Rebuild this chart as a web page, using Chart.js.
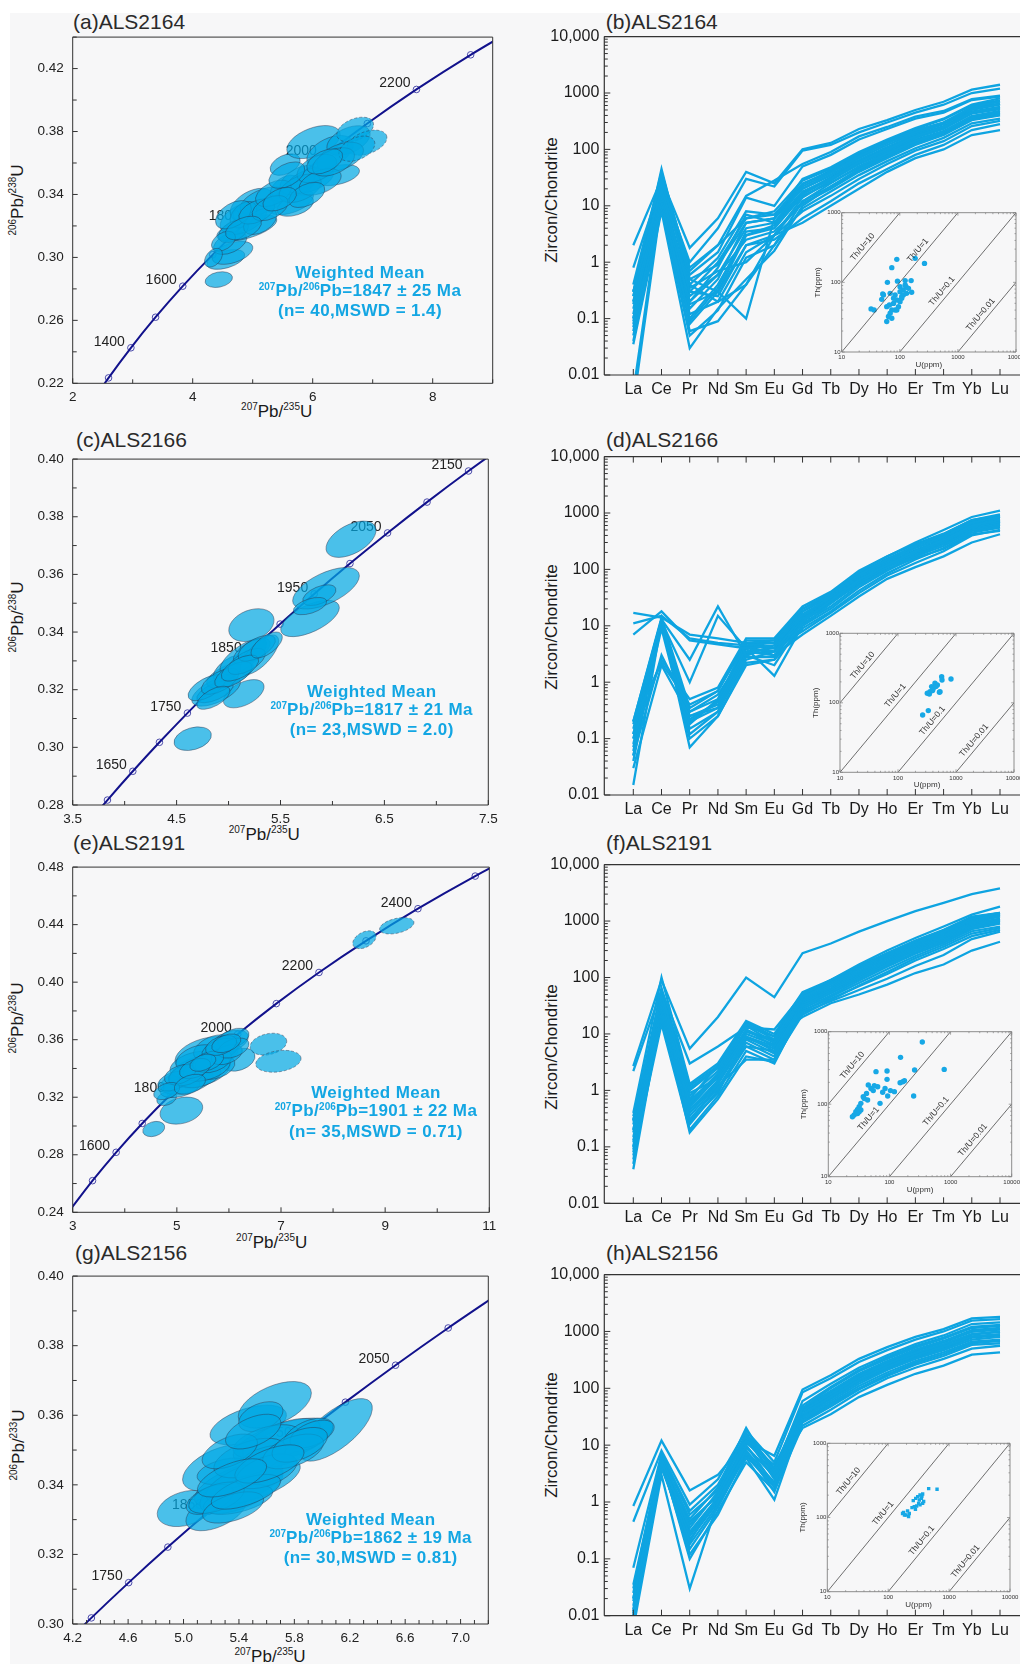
<!DOCTYPE html>
<html><head><meta charset="utf-8">
<script src="https://cdn.jsdelivr.net/npm/chart.js@4.4.1/dist/chart.umd.min.js"></script>
<style>
html,body{margin:0;padding:0;background:#fff;overflow:hidden}
body{width:1020px;height:1664px;position:relative;font-family:"Liberation Sans",Arial,Helvetica,sans-serif;color:#1e1e1e}
#bg{position:absolute;left:10px;top:13px;width:1010px;height:1651px;background:#f7f7f8}
canvas{position:absolute}
.ttl{position:absolute;font-size:21px;line-height:24px;white-space:nowrap;color:#2a2a2a}
.ax{position:absolute;left:0;top:0;font-size:17px;line-height:20px;white-space:nowrap;color:#1a1a1a;transform:translate(-50%,-50%)}
.ax.rot{transform:translate(-50%,-50%) rotate(-90deg)}
.ax sup{font-size:10px;vertical-align:0;position:relative;top:-7px}
.wm{position:absolute;transform:translateX(-50%);text-align:center;font-weight:bold;color:#13a6e3;font-size:17px;line-height:18.3px;white-space:nowrap;letter-spacing:0.4px}
.wm sup{font-size:10px;position:relative;top:-6px;vertical-align:0;letter-spacing:0}
</style></head><body>
<div id="bg"></div>

<div class="ttl" style="left:73px;top:9.7px">(a)ALS2164</div>
<div class="ttl" style="left:605.7px;top:9.7px">(b)ALS2164</div>
<div class="ttl" style="left:76px;top:428px">(c)ALS2166</div>
<div class="ttl" style="left:606px;top:428px">(d)ALS2166</div>
<div class="ttl" style="left:73px;top:831px">(e)ALS2191</div>
<div class="ttl" style="left:606px;top:831px">(f)ALS2191</div>
<div class="ttl" style="left:75px;top:1241px">(g)ALS2156</div>
<div class="ttl" style="left:606px;top:1241px">(h)ALS2156</div>

<div class="ax rot" style="left:19px;top:200px"><sup>206</sup>Pb/<sup>238</sup>U</div>
<div class="ax rot" style="left:19px;top:616.7px"><sup>206</sup>Pb/<sup>238</sup>U</div>
<div class="ax rot" style="left:19px;top:1018.3px"><sup>206</sup>Pb/<sup>238</sup>U</div>
<div class="ax rot" style="left:20px;top:1445px"><sup>206</sup>Pb/<sup>233</sup>U</div>
<div class="ax" style="left:276.7px;top:413.3px"><sup>207</sup>Pb/<sup>235</sup>U</div>
<div class="ax" style="left:264.3px;top:836px"><sup>207</sup>Pb/<sup>235</sup>U</div>
<div class="ax" style="left:271.7px;top:1244.3px"><sup>207</sup>Pb/<sup>235</sup>U</div>
<div class="ax" style="left:270px;top:1658.3px"><sup>207</sup>Pb/<sup>235</sup>U</div>
<div class="ax rot" style="left:551.7px;top:200px">Zircon/Chondrite</div>
<div class="ax rot" style="left:551.7px;top:626.7px">Zircon/Chondrite</div>
<div class="ax rot" style="left:551.7px;top:1046.7px">Zircon/Chondrite</div>
<div class="ax rot" style="left:551.7px;top:1435px">Zircon/Chondrite</div>

<script>
// ---------------- DATA ----------------
const elements = ['La','Ce','Pr','Nd','Sm','Eu','Gd','Tb','Dy','Ho','Er','Tm','Yb','Lu'];
const reeMajor = [0.01,0.1,1,10,100,1000,10000];
const reeMajorLabels = ['0.01','0.1','1','10','100','1000','10,000'];
const insetXMajor = [10,100,1000,10000];
const insetXLabels = ['10','100','1000','10000'];
const insetYMajor = [10,100,1000];
const insetYLabels = ['10','100','1000'];
const thuRatios = [10,1,0.1,0.01];
const thuLabels = ['Th/U=10','Th/U=1','Th/U=0.1','Th/U=0.01'];

// decay constants (per Ma) for the concordia reference curve
const L238 = 1.55125e-4, L235 = 9.8485e-4;

// tick labels of concordia panels
const aXLabels=['2','4','6','8'];             const aYLabels=['0.22','0.26','0.30','0.34','0.38','0.42'];
const cXLabels=['3.5','4.5','5.5','6.5','7.5']; const cYLabels=['0.28','0.30','0.32','0.34','0.36','0.38','0.40'];
const eXLabels=['3','5','7','9','11'];         const eYLabels=['0.24','0.28','0.32','0.36','0.40','0.44','0.48'];
const gXLabels=['4.2','4.6','5.0','5.4','5.8','6.2','6.6','7.0']; const gYLabels=['0.30','0.32','0.34','0.36','0.38','0.40'];

// concordia ages (Ma): curve nodes, open markers, labelled markers
const aAges=[1200,1300,1400,1500,1600,1700,1800,1900,2000,2100,2200,2300,2400];
const aMarkers=[1300,1400,1500,1600,1700,1800,1900,2000,2100,2200,2300];
const aLabeled=[1400,1600,1800,2000,2200];
const cAges=[1550,1600,1650,1700,1750,1800,1850,1900,1950,2000,2050,2100,2150,2200];
const cMarkers=[1600,1650,1700,1750,1800,1850,1900,1950,2000,2050,2100,2150];
const cLabeled=[1650,1750,1850,1950,2050,2150];
const eAges=[1400,1500,1600,1700,1800,1900,2000,2100,2200,2300,2400,2500,2600];
const eMarkers=[1500,1600,1700,1800,1900,2000,2100,2200,2300,2400,2500];
const eLabeled=[1600,1800,2000,2200,2400];
const gAges=[1650,1700,1750,1800,1850,1900,1950,2000,2050,2100,2150];
const gMarkers=[1700,1750,1800,1850,1900,1950,2000,2050,2100];
const gLabeled=[1750,1850,1950,2050];

// error ellipses: [207Pb/235U, 206Pb/238U, err x, err y, rho, dashed]
const ellA=[
[4.435,0.2859,0.228,0.0050,0.25,0],[4.551,0.2987,0.317,0.0063,0.45,0],[4.663,0.3029,0.339,0.0073,0.45,0],
[4.624,0.3092,0.278,0.0073,0.45,0],[4.902,0.3187,0.50,0.0084,0.6,0],[4.846,0.3250,0.389,0.0105,0.45,0],
[4.985,0.3334,0.361,0.0105,0.45,0],[5.180,0.3359,0.389,0.0090,0.5,0],[4.846,0.3271,0.222,0.0084,0.4,0],
[5.624,0.3355,0.389,0.0084,0.45,0],[5.708,0.3330,0.306,0.0069,0.4,0],[5.541,0.3439,0.250,0.0084,0.4,0],
[5.791,0.3491,0.334,0.0094,0.45,0],[5.958,0.3491,0.389,0.0084,0.5,0],[6.402,0.3523,0.378,0.0067,0.4,0],
[5.541,0.3590,0.250,0.0069,0.4,0],[6.013,0.3733,0.445,0.0105,0.45,0],[6.291,0.3670,0.389,0.0105,0.45,0],
[6.597,0.3743,0.361,0.0094,0.45,0],[6.708,0.3813,0.306,0.0078,0.4,1],[6.903,0.3729,0.334,0.0080,0.4,1],
[6.458,0.3638,0.389,0.0094,0.45,0],[4.679,0.3166,0.25,0.0073,0.45,0],[5.124,0.3229,0.278,0.0084,0.45,0],
[4.679,0.3271,0.30,0.0090,0.45,0],[5.068,0.3292,0.30,0.0080,0.45,0],[5.346,0.3407,0.30,0.0084,0.45,0],
[5.791,0.3439,0.35,0.0090,0.45,0],[6.069,0.3565,0.33,0.0090,0.45,0],[6.125,0.3480,0.35,0.0084,0.45,0],
[5.569,0.3523,0.30,0.0084,0.45,0],[6.347,0.3607,0.35,0.0090,0.45,0],[6.736,0.3691,0.30,0.0080,0.4,1],
[4.513,0.3103,0.20,0.0063,0.4,0],[4.346,0.2998,0.15,0.0060,0.4,0],[5.290,0.3313,0.30,0.0080,0.45,0],
[5.902,0.3397,0.30,0.0080,0.45,0],[4.846,0.3187,0.30,0.0075,0.45,0],[5.45,0.3370,0.28,0.0075,0.45,0],
[6.20,0.3610,0.30,0.0080,0.45,0]];
const ellC=[
[4.655,0.3030,0.180,0.0041,0.3,0],[5.146,0.3186,0.196,0.0049,0.5,0],[4.880,0.3195,0.234,0.0052,0.6,0],
[4.870,0.3193,0.176,0.0038,0.6,0],[5.014,0.3252,0.225,0.0046,0.6,0],[5.014,0.3275,0.160,0.0046,0.6,0],
[5.143,0.3315,0.225,0.0063,0.7,0],[5.223,0.3333,0.176,0.0046,0.6,0],[5.297,0.3321,0.185,0.0069,0.7,0],
[5.220,0.3424,0.218,0.0057,0.3,0],[5.784,0.3447,0.282,0.0063,0.6,0],[5.938,0.3552,0.321,0.0072,0.6,0],
[5.874,0.3528,0.160,0.0036,0.5,0],[5.784,0.3490,0.160,0.0030,0.5,0],[6.179,0.3722,0.241,0.0063,0.5,0],
[4.790,0.3207,0.180,0.0045,0.6,0],[4.918,0.3229,0.180,0.0045,0.6,0],[5.046,0.3252,0.180,0.0045,0.6,0],
[5.175,0.3298,0.180,0.0045,0.6,0],[5.271,0.3344,0.180,0.0045,0.6,0],[4.854,0.3172,0.160,0.0040,0.6,0],
[5.110,0.3275,0.180,0.0045,0.6,0],[5.367,0.3355,0.150,0.0045,0.6,0]];
const ellE=[
[4.556,0.2979,0.211,0.0053,0.25,0],[5.087,0.3107,0.410,0.0094,0.25,0],[4.805,0.3192,0.190,0.0050,0.3,0],
[5.190,0.3312,0.510,0.0092,0.4,0],[5.446,0.3381,0.580,0.0115,0.4,0],[5.574,0.3496,0.610,0.0126,0.35,0],
[5.318,0.3427,0.450,0.0092,0.4,0],[5.702,0.3542,0.380,0.0092,0.4,0],[6.022,0.3587,0.350,0.0080,0.4,0],
[6.086,0.3610,0.300,0.0070,0.4,0],[6.182,0.3461,0.320,0.0080,0.3,0],[5.061,0.3266,0.380,0.0069,0.4,0],
[4.933,0.3312,0.300,0.0069,0.4,0],[5.446,0.3346,0.400,0.0080,0.4,0],[5.766,0.3404,0.350,0.0080,0.4,0],
[5.382,0.3473,0.400,0.0092,0.4,0],[5.830,0.3530,0.350,0.0080,0.4,0],[5.574,0.3404,0.450,0.0092,0.4,0],
[5.190,0.3358,0.350,0.0080,0.4,0],[5.702,0.3450,0.350,0.0080,0.4,0],[5.958,0.3496,0.300,0.0070,0.4,0],
[6.086,0.3542,0.300,0.0070,0.4,0],[5.061,0.3358,0.300,0.0070,0.4,0],[4.805,0.3243,0.250,0.0060,0.4,0],
[5.60,0.3450,0.300,0.0070,0.4,0],[5.35,0.3400,0.300,0.0070,0.4,0],[5.85,0.3560,0.300,0.0070,0.4,0],
[5.25,0.3290,0.300,0.0070,0.4,0],[5.50,0.3440,0.250,0.0060,0.4,0],[5.95,0.3575,0.280,0.0065,0.4,0],
[6.758,0.3569,0.352,0.0076,0.25,1],[6.950,0.3450,0.435,0.0076,0.25,1],[8.602,0.4295,0.224,0.0062,0.4,1],
[9.223,0.4392,0.330,0.0057,0.4,1]];
const ellG=[
[5.012,0.3332,0.202,0.0052,0.3,0],[5.236,0.3325,0.219,0.0057,0.5,0],[5.260,0.3449,0.267,0.0067,0.5,0],
[5.467,0.3572,0.276,0.0057,0.5,0],[5.659,0.3630,0.264,0.0067,0.5,0],[6.099,0.3558,0.264,0.0090,0.7,0],
[5.399,0.3401,0.320,0.0067,0.6,0],[5.418,0.3387,0.300,0.0070,0.6,0],[5.719,0.3525,0.360,0.0067,0.6,0],
[5.707,0.3529,0.280,0.0062,0.6,0],[5.298,0.3439,0.200,0.0038,0.4,0],[5.558,0.3596,0.160,0.0043,0.4,0],
[5.599,0.3525,0.240,0.0048,0.5,0],[5.503,0.3411,0.340,0.0067,0.6,0],[5.394,0.3358,0.250,0.0043,0.5,0],
[5.899,0.3544,0.180,0.0048,0.5,0],[5.647,0.3482,0.220,0.0034,0.4,0],[5.190,0.3358,0.170,0.0043,0.5,0],
[5.928,0.3546,0.160,0.0040,0.5,0],[5.479,0.3477,0.260,0.0057,0.5,0],[5.334,0.3496,0.200,0.0050,0.5,0],
[5.599,0.3439,0.220,0.0050,0.5,0],[5.791,0.3496,0.220,0.0050,0.5,0],[5.503,0.3553,0.200,0.0050,0.5,0],
[5.238,0.3363,0.200,0.0045,0.5,0],[5.358,0.3335,0.220,0.0045,0.5,0],[5.839,0.3515,0.200,0.0050,0.5,0],
[5.45,0.3380,0.250,0.0050,0.6,0],[5.62,0.3460,0.250,0.0055,0.6,0],[5.35,0.3420,0.250,0.0055,0.6,0]];

// REE chondrite-normalised patterns (La..Lu)
const reeB=[
[2.0,30,1.8,6,40,25,100,130,230,330,500,700,1150,1400],
[0.8,25,1.0,4,30,22,95,120,200,300,450,620,1000,1200],
[0.4,40,0.7,2,15,28,55,90,170,250,380,480,780,900],
[0.3,20,0.6,1.5,14,10,50,80,150,230,350,450,750,860],
[0.25,45,0.5,0.3,0.1,6,30,48,90,150,240,350,620,800],
[0.2,18,0.3,1,6,8,28,45,85,140,220,300,560,700],
[0.15,15,0.2,0.8,7,5,22,38,75,130,200,290,520,650],
[0.1,25,0.15,0.5,5,6,20,35,70,120,190,280,500,620],
[0.08,12,0.1,0.4,3,4,16,30,60,100,170,250,460,560],
[0.06,20,0.08,0.3,2,3,14,28,55,95,160,230,430,520],
[0.05,10,0.06,0.09,0.4,2,12,25,50,85,140,210,390,480],
[0.035,8,0.03,0.15,0.5,1.6,10,22,45,78,130,200,370,450],
[0.005,15,0.4,0.2,1.5,3,8,15,30,55,95,140,260,320],
[0.003,12,0.3,0.25,2,2.5,6,12,25,45,80,120,220,280],
[0.3,22,0.25,0.6,4,5,18,30,55,90,150,210,380,460],
[0.2,14,0.12,0.2,0.4,3,5,10,20,40,70,100,180,220],
[0.12,30,0.4,1.2,8,7,25,40,80,140,230,340,600,740],
[0.09,10,0.09,0.35,3.5,4,15,26,48,80,135,200,350,430],
[0.07,16,0.2,0.6,2.5,3.5,11,20,40,70,120,180,330,400],
[0.18,28,0.5,0.9,5,6,24,42,80,130,210,300,540,650],
[0.04,9,0.05,0.14,1.2,2,9,18,35,62,105,160,290,350],
[0.3,35,0.8,2,6,7,20,35,65,110,180,260,470,570],
[0.1,18,0.35,0.7,1,3,12,22,42,75,125,185,340,410],
[0.25,12,0.18,0.3,3,4.5,17,32,62,105,170,245,450,540]];
const reeD=[
[17,14,7,6,5,5.5,20,38,90,170,300,500,850,1100],
[11,15,6,5,4.5,5,18,35,80,150,260,420,750,950],
[7,18,5.5,4.7,4,4.5,16,32,75,140,240,380,680,850],
[0.2,13,2.5,22,3,2,12,28,65,120,210,330,600,750],
[0.15,12,1.0,15,4,1.3,10,25,60,110,200,310,560,700],
[0.1,2.5,0.5,0.8,6,6,22,40,95,170,280,430,750,900],
[0.2,2.2,0.4,0.7,5.5,5.5,20,36,85,155,260,400,700,850],
[0.05,3,0.3,0.5,5,4,18,33,78,140,240,360,650,800],
[0.03,2.0,0.25,0.4,4,3.5,15,30,70,130,220,340,620,750],
[0.015,12,0.2,0.35,3.5,3,13,28,62,120,200,320,580,700],
[0.12,10,0.15,0.3,3,4.5,12,25,58,110,190,300,540,650],
[0.08,11,0.12,0.3,2.5,3.5,11,22,52,100,180,280,500,620],
[0.06,9,0.1,0.25,2.2,2.5,10,20,48,95,170,260,480,580],
[0.04,12,0.07,0.25,2,2.5,9,18,42,85,150,240,450,550],
[0.18,13,0.3,0.6,3.5,4,8,17,38,78,130,210,400,500],
[0.1,11,0.2,0.45,4.5,3,7,15,33,68,110,170,300,420],
[0.2,14,0.35,0.7,5,5,14,28,60,110,190,290,520,620],
[0.07,12,0.18,0.5,4.5,4,16,30,66,120,200,300,560,680],
[0.12,10,0.25,0.35,2.8,2.8,12,26,55,100,160,230,420,480],
[0.05,13,0.22,0.45,3.2,3.5,14,30,68,125,210,330,590,720]];
const reeF=[
[2.7,90,5.5,20,100,45,270,400,650,1000,1500,2100,3000,3800],
[2.2,60,3,6,13,12,50,90,170,300,500,800,1300,1800],
[0.4,100,1.3,3,17,10,55,90,160,270,450,700,1200,1400],
[0.35,50,1.0,2.5,15,8,50,85,150,250,420,650,1100,1350],
[0.3,40,0.8,2.2,14,7,45,80,140,240,400,620,1050,1300],
[0.25,35,0.6,2,12,6,42,75,130,225,380,600,1000,1250],
[0.2,30,0.5,1.8,10,6.5,40,70,125,215,360,560,950,1200],
[0.15,25,0.45,1.5,9,5,38,65,118,200,340,530,900,1100],
[0.12,22,0.35,1.3,8,4.5,35,60,110,190,320,500,850,1050],
[0.1,20,0.3,1.1,7,4,32,56,100,175,300,470,800,1000],
[0.08,18,0.25,1,6,3.5,30,52,95,165,280,440,760,950],
[0.07,15,0.2,0.8,5,3,28,48,88,155,265,410,720,900],
[0.04,25,0.18,0.7,4,3.2,25,45,80,140,240,380,660,800],
[0.05,30,0.3,1.2,3.5,3.5,22,40,72,125,220,350,600,750],
[0.3,45,0.7,2.8,16,9,20,35,50,75,120,170,300,430],
[0.2,55,1.1,2.5,11,8,24,38,60,95,160,250,480,650],
[0.18,35,0.9,1.6,6,5,26,42,70,115,200,320,540,700],
[0.09,28,0.4,1.4,12,7,45,85,150,260,430,680,1150,1400],
[0.06,20,0.55,1.7,9,6,48,80,145,245,410,640,1050,1300],
[0.28,65,1.2,2.7,14,9,52,88,155,265,440,680,1150,1380],
[0.13,32,0.65,1.9,11,7.5,36,62,112,195,330,510,880,1080],
[0.1,24,0.28,0.9,8.5,5.5,33,58,105,182,310,480,820,1020]];
const reeH=[
[0.85,12,1.6,3,12,6.5,95,170,330,530,800,1100,1700,1800],
[0.45,8,0.9,2.5,18,5,85,150,290,470,720,1000,1550,1650],
[0.07,7,0.7,2,15,3.5,60,120,230,380,600,850,1350,1450],
[0.035,6,0.5,1.8,20,3,45,100,200,330,520,750,1150,1250],
[0.018,5,0.35,1.5,14,2.5,44,90,180,300,480,680,1050,1150],
[0.01,4,0.2,1.3,10,2,40,80,160,270,420,600,900,1000],
[0.006,3,0.03,1,8,1.5,35,70,140,240,380,540,820,900],
[0.008,5,0.12,0.6,6,1.1,30,60,120,210,330,470,720,800],
[0.012,4.5,0.15,0.8,7,2,28,55,110,190,300,430,660,720],
[0.02,6,0.25,1.1,9,3,25,48,95,165,260,370,580,620],
[0.009,5.5,0.1,0.7,5,1.6,22,42,85,150,230,330,500,560],
[0.015,4,0.3,1.2,12,3.2,20,35,70,115,180,250,390,430],
[0.03,6.5,0.4,1.4,11,4.5,32,65,130,220,350,500,780,850],
[0.011,5,0.18,0.9,8,2.2,38,75,150,255,400,580,880,980],
[0.025,7,0.6,1.6,16,4,50,105,210,350,550,780,1200,1300],
[0.007,4.2,0.22,1.0,6.5,1.8,26,52,100,175,280,400,620,680],
[0.013,5.8,0.45,1.3,9.5,2.8,42,85,170,285,450,640,980,1080],
[0.02,6,0.28,1.1,13,3.8,34,68,135,230,360,520,800,880]];

// inset Th vs U (ppm): [U, Th]
const thB=[[88.8,213.8],[183.7,221],[266,187],[72.8,162.5],[61.2,100],[91.2,104],[123.6,106],[156.7,106],[50.9,68],[48.8,57],[68.2,69.5],[59.6,44.8],[72.8,40],[32,41.6],[36.1,40],[101,86.7],[115,77.6],[131,69.5],[108,62.5],[88.8,55.7],[77.9,49.9],[101,73.5],[115,65.8],[83,65.8],[94.9,44.8],[68.2,36],[63.8,32.3],[59.6,27.4],[72.8,30.5],[83,40],[128,86.7],[141,82],[160,72],[101,52.8],[88.8,40],[78,59],[66.3,47.3],[123.6,91.5],[52.3,65.8],[108,59]];
const thD=[[266,66.8],[333,77.2],[530,144.8],[820,220],[566,237.8],[574,213],[434,190.8],[380,171],[356,144.8],[347,134],[406,161.5],[477,180],[518,142],[395,150],[450,171],[320,137]];
const thF=[[345,720],[152,443],[60.3,281],[91.4,287],[258,296],[787,302],[91.4,220],[45.1,184],[56.6,180],[64.2,174],[84.8,165],[103.8,154],[120.5,149],[149.5,198],[176,211],[37.3,127],[43.9,114],[249,130],[93.6,130],[70.2,102.7],[34.1,102.7],[32,92.6],[30.1,84.9],[28.2,78.8],[26.5,70.9],[24.8,67.2],[30.1,74.3],[34.1,83],[32,78.8],[49.9,165],[54.4,154],[42.2,141],[38.7,120],[77.5,146],[165.5,204]];
const thH=[[179,117.4],[196,108],[216,102.6],[172,113],[208,123],[258,168.6],[305,191],[333,201],[368,207],[351,181],[316,155],[293,143],[280,129],[268,140],[246,136],[333,148],[382,164],[462,245],[634,240],[324,172],[368,155],[222,113],[185,108],[283,181],[358,195]];

// ---------------- RENDERING ----------------
Chart.defaults.font.family='"Liberation Sans", Arial, Helvetica, sans-serif';
Chart.defaults.color='#1e1e1e';
Chart.defaults.animation=false;
Chart.defaults.events=[];
Chart.defaults.plugins.legend.display=false;
Chart.defaults.plugins.tooltip.enabled=false;

const FONT='"Liberation Sans", Arial, Helvetica, sans-serif';
function conc(t){return {x:Math.exp(L235*t)-1, y:Math.exp(L238*t)-1};}
function steps(min,max,step){const n=Math.round((max-min)/step),o=[];for(let i=0;i<=n;i++)o.push(+(min+i*step).toFixed(6));return o;}
function logTicks(majors){const o=[];majors.forEach((m,i)=>{o.push(m);if(i<majors.length-1)for(let k=2;k<=9;k++)o.push(+(m*k).toPrecision(6));});return o;}

function framePlugin(cfg){
  return {id:'frame',afterDraw(chart){
    const {ctx,chartArea:a,scales:{x,y}}=chart;
    ctx.save();
    ctx.strokeStyle=cfg.color;ctx.lineWidth=cfg.lw;ctx.beginPath();
    if(cfg.sides.includes('t')){ctx.moveTo(a.left,a.top);ctx.lineTo(a.right,a.top);}
    if(cfg.sides.includes('r')){ctx.moveTo(a.right,a.top);ctx.lineTo(a.right,a.bottom);}
    if(cfg.sides.includes('b')){ctx.moveTo(a.left,a.bottom);ctx.lineTo(a.right,a.bottom);}
    if(cfg.sides.includes('l')){ctx.moveTo(a.left,a.top);ctx.lineTo(a.left,a.bottom);}
    ctx.stroke();
    ctx.lineWidth=cfg.tw;ctx.beginPath();
    x.ticks.forEach(t=>{const p=x.getPixelForValue(t.value);const L=(t.label!==''&&t.label!=null)?cfg.maj:cfg.min;
      if(cfg.xb){ctx.moveTo(p,a.bottom);ctx.lineTo(p,a.bottom-L);} if(cfg.xt){ctx.moveTo(p,a.top);ctx.lineTo(p,a.top+L);} });
    y.ticks.forEach(t=>{const p=y.getPixelForValue(t.value);const L=(t.label!==''&&t.label!=null)?cfg.maj:cfg.min;
      if(cfg.yl){ctx.moveTo(a.left,p);ctx.lineTo(a.left+L,p);} if(cfg.yr){ctx.moveTo(a.right,p);ctx.lineTo(a.right-L,p);} });
    ctx.stroke();ctx.restore();
  }};
}

function concPlugin(p){
  return {id:'conc',afterDatasetsDraw(chart){
    const {ctx,chartArea:a,scales:{x,y}}=chart;
    ctx.save();
    ctx.beginPath();ctx.rect(a.left,a.top,a.right-a.left,a.bottom-a.top);ctx.clip();
    ctx.font='14px '+FONT;ctx.fillStyle='#222';ctx.textAlign='right';ctx.textBaseline='middle';
    p.labeled.forEach(t=>{const c=conc(t);ctx.fillText(String(t),x.getPixelForValue(c.x)-6,y.getPixelForValue(c.y)-6);});
    p.ell.forEach(e=>{
      const cx=x.getPixelForValue(e[0]),cy=y.getPixelForValue(e[1]);
      const sx=Math.abs(x.getPixelForValue(e[0]+e[2])-cx),sy=Math.abs(y.getPixelForValue(e[1]+e[3])-cy);
      const c=-e[4]*sx*sy,A=sx*sx,B=sy*sy,m=(A+B)/2,d=Math.sqrt(((A-B)/2)**2+c*c);
      const r1=Math.sqrt(m+d),r2=Math.sqrt(Math.max(m-d,0.25)),th=0.5*Math.atan2(2*c,A-B);
      ctx.beginPath();ctx.ellipse(cx,cy,r1,r2,th,0,2*Math.PI);
      ctx.fillStyle='rgba(0,168,228,0.7)';ctx.fill();
      ctx.setLineDash(e[5]?[3,2]:[]);ctx.strokeStyle='rgba(45,45,70,0.55)';ctx.lineWidth=0.8;ctx.stroke();
    });
    ctx.restore();
  }};
}

function thuPlugin(anchors){
  return {id:'thu',afterDatasetsDraw(chart){
    const {ctx,scales:{x,y}}=chart;
    ctx.save();ctx.font='8.5px '+FONT;ctx.fillStyle='#333';ctx.textAlign='center';ctx.textBaseline='middle';
    thuRatios.forEach((k,i)=>{
      const u=anchors[i],px=x.getPixelForValue(u),py=y.getPixelForValue(k*u);
      const px2=x.getPixelForValue(u*2),py2=y.getPixelForValue(k*u*2);
      const ang=Math.atan2(py2-py,px2-px),nx=Math.sin(ang),ny=-Math.cos(ang);
      ctx.save();ctx.translate(px+6.5*nx,py+6.5*ny);ctx.rotate(ang);ctx.fillText(thuLabels[i],0,0);ctx.restore();
    });
    ctx.restore();
  }};
}

function addCanvas(l,t,w,h){const c=document.createElement('canvas');c.width=w;c.height=h;c.style.left=l+'px';c.style.top=t+'px';document.body.appendChild(c);return c;}

// concordia panels
const concPanels=[
 {plot:[72.7,34.3,492.7,383.3],xr:[2,9,1],yr:[0.22,0.44,0.02],xdec:0,xl:aXLabels,yl:aYLabels,ages:aAges,markers:aMarkers,labeled:aLabeled,ell:ellA},
 {plot:[72.7,455.7,488.3,805],xr:[3.5,7.5,0.5],yr:[0.28,0.40,0.01],xdec:1,xl:cXLabels,yl:cYLabels,ages:cAges,markers:cMarkers,labeled:cLabeled,ell:ellC},
 {plot:[72.7,864,489.3,1212.3],xr:[3,11,1],yr:[0.24,0.48,0.02],xdec:0,xl:eXLabels,yl:eYLabels,ages:eAges,markers:eMarkers,labeled:eLabeled,ell:ellE},
 {plot:[72.7,1273.3,488.3,1624],xr:[4.2,7.2,0.1],yr:[0.30,0.40,0.01],xdec:1,xl:gXLabels,yl:gYLabels,ages:gAges,markers:gMarkers,labeled:gLabeled,ell:ellG}
];
concPanels.forEach(p=>{
  const [L,T,R,B]=p.plot;const cl=10,ct=Math.round(T-14),cw=Math.round(R+16-cl),ch=Math.round(B+26-ct);
  const cv=addCanvas(cl,ct,cw,ch);
  const xT=steps(...p.xr),yT=steps(...p.yr);
  new Chart(cv,{type:'line',
    data:{datasets:[
      {data:p.ages.map(a=>conc(a)),borderColor:'#12128c',borderWidth:2,pointRadius:0,cubicInterpolationMode:'monotone'},
      {data:p.markers.map(a=>conc(a)),showLine:false,pointRadius:3.3,pointBackgroundColor:'#f6f6ff',pointBorderColor:'#4a4aa8',pointBorderWidth:1}
    ]},
    options:{responsive:false,maintainAspectRatio:false,
      layout:{autoPadding:false,padding:{left:0,top:T-ct,right:cw-(R-cl),bottom:0}},
      scales:{
        x:{type:'linear',min:p.xr[0],max:p.xr[1],grid:{display:false,drawTicks:false},border:{display:false},
          afterBuildTicks:s=>{s.ticks=xT.map(v=>({value:v}));},
          afterFit:s=>{s.height=ch-(B-ct);},
          ticks:{autoSkip:false,maxRotation:0,padding:6,color:'#222',font:{size:13.5},callback:v=>{const s=(+v).toFixed(p.xdec);return p.xl.includes(s)?s:'';}}},
        y:{type:'linear',min:p.yr[0],max:p.yr[1],grid:{display:false,drawTicks:false},border:{display:false},
          afterBuildTicks:s=>{s.ticks=yT.map(v=>({value:v}));},
          afterFit:s=>{s.width=L-cl;},
          ticks:{autoSkip:false,padding:9,color:'#222',font:{size:13.5},callback:v=>{const s=(+v).toFixed(2);return p.yl.includes(s)?s:'';}}}
      }},
    plugins:[concPlugin(p),framePlugin({sides:'trbl',color:'#333',lw:1,tw:1,maj:5,min:4,xb:true,xt:false,yl:true,yr:false})]
  });
});

// REE panels + insets
const reePanels=[
 {plot:[604.3,35.5,1020,375],data:reeB,top:false,inset:{frame:[841.7,212.7,1016,352],pts:thB,anchors:[28,250,650,3000],style:'circle'}},
 {plot:[604.3,456,1020,795],data:reeD,top:true,inset:{frame:[840,633.3,1014,772.3],pts:thD,anchors:[30,110,480,2500],style:'circle'}},
 {plot:[604.3,864,1020,1203.3],data:reeF,top:false,inset:{frame:[828.3,1031.7,1011.7,1176.7],pts:thF,anchors:[30,55,700,2800],style:'circle'}},
 {plot:[604.3,1274,1020,1615.7],data:reeH,top:false,inset:{frame:[827.3,1443.3,1010,1591.7],pts:thH,anchors:[27,100,430,2250],style:'rect'}}
];
const spacing=(1000-633.3)/13;
const xMin=(604.3-633.3)/spacing,xMax=(1020-633.3)/spacing;
const reeTicks=logTicks(reeMajor);
function majorLabel(v,majors,labels){for(let i=0;i<majors.length;i++){if(Math.abs(Math.log10(v)-Math.log10(majors[i]))<1e-6)return labels[i];}return '';}

reePanels.forEach(p=>{
  const [L,T,R,B]=p.plot;const cl=540,ct=Math.round(T-14),cw=480,ch=Math.round(B+28-ct);
  const cv=addCanvas(cl,ct,cw,ch);
  new Chart(cv,{type:'line',
    data:{datasets:p.data.map(row=>({data:row.map((v,i)=>({x:i,y:v})),borderColor:'#0ea4e1',borderWidth:2.3,pointRadius:0,tension:0}))},
    options:{responsive:false,maintainAspectRatio:false,
      layout:{autoPadding:false,padding:{left:0,top:T-ct,right:cw-(R-cl),bottom:0}},
      scales:{
        x:{type:'linear',min:xMin,max:xMax,grid:{display:false,drawTicks:false},border:{display:false},
          afterBuildTicks:s=>{s.ticks=elements.map((e,i)=>({value:i}));},
          afterFit:s=>{s.height=ch-(B-ct);},
          ticks:{autoSkip:false,maxRotation:0,padding:5,color:'#1a1a1a',font:{size:16},callback:v=>elements[Math.round(v)]||''}},
        y:{type:'logarithmic',min:0.01,max:10000,grid:{display:false,drawTicks:false},border:{display:false},
          afterBuildTicks:s=>{s.ticks=reeTicks.map(v=>({value:v}));},
          afterFit:s=>{s.width=L-cl;},
          ticks:{autoSkip:false,padding:5,color:'#1a1a1a',font:{size:16},callback:v=>majorLabel(v,reeMajor,reeMajorLabels)}}
      }},
    plugins:[framePlugin({sides:'tbl',color:'#333',lw:1.2,tw:1,maj:6,min:3.5,xb:true,xt:p.top,yl:true,yr:false})]
  });

  // inset Th-U diagram
  const [iL,iT,iR,iB]=p.inset.frame;const il=Math.round(iL-30),it=Math.round(iT-6),iw=Math.round(iR+14)-il,ih=Math.round(iB+20)-it;
  const icv=addCanvas(il,it,iw,ih);
  const lineSets=thuRatios.map(k=>{const u0=Math.max(10,10/k),u1=Math.min(10000,1000/k);
    return {type:'line',data:[{x:u0,y:k*u0},{x:u1,y:k*u1}],borderColor:'#4a4a4a',borderWidth:0.8,pointRadius:0};});
  new Chart(icv,{type:'scatter',
    data:{datasets:[...lineSets,
      {type:'scatter',data:p.inset.pts.map(d=>({x:d[0],y:d[1]})),pointStyle:p.inset.style,pointRadius:p.inset.style==='rect'?2.4:2.7,
       backgroundColor:'#17a8e6',borderColor:'#17a8e6',borderWidth:0}]},
    options:{responsive:false,maintainAspectRatio:false,
      layout:{autoPadding:false,padding:{left:0,top:iT-it,right:iw-(iR-il),bottom:0}},
      scales:{
        x:{type:'logarithmic',min:10,max:10000,grid:{display:false,drawTicks:false},border:{display:false},
          afterBuildTicks:s=>{s.ticks=logTicks(insetXMajor).map(v=>({value:v}));},
          afterFit:s=>{s.height=ih-(iB-it);},
          title:{display:true,text:'U(ppm)',font:{size:8},color:'#333',padding:{top:0,bottom:2}},
          ticks:{autoSkip:false,maxRotation:0,padding:2,color:'#333',font:{size:6},callback:v=>majorLabel(v,insetXMajor,insetXLabels)}},
        y:{type:'logarithmic',min:10,max:1000,grid:{display:false,drawTicks:false},border:{display:false},
          afterBuildTicks:s=>{s.ticks=logTicks(insetYMajor).map(v=>({value:v}));},
          afterFit:s=>{s.width=iL-il;},
          title:{display:true,text:'Th(ppm)',font:{size:8},color:'#333',padding:{top:1,bottom:0}},
          ticks:{autoSkip:false,padding:1,color:'#333',font:{size:6},callback:v=>majorLabel(v,insetYMajor,insetYLabels)}}
      }},
    plugins:[thuPlugin(p.inset.anchors),framePlugin({sides:'trbl',color:'#808080',lw:0.9,tw:0.7,maj:3,min:1.5,xb:true,xt:true,yl:true,yr:true})]
  });
});
</script>

<div class="wm" style="left:360px;top:263.5px">Weighted Mean<br><sup>207</sup>Pb/<sup>206</sup>Pb=1847 ± 25 Ma<br>(n= 40,MSWD = 1.4)</div>
<div class="wm" style="left:371.7px;top:682.5px">Weighted Mean<br><sup>207</sup>Pb/<sup>206</sup>Pb=1817 ± 21 Ma<br>(n= 23,MSWD = 2.0)</div>
<div class="wm" style="left:376px;top:1084px">Weighted Mean<br><sup>207</sup>Pb/<sup>206</sup>Pb=1901 ± 22 Ma<br>(n= 35,MSWD = 0.71)</div>
<div class="wm" style="left:370.7px;top:1510.7px">Weighted Mean<br><sup>207</sup>Pb/<sup>206</sup>Pb=1862 ± 19 Ma<br>(n= 30,MSWD = 0.81)</div>
</body></html>
